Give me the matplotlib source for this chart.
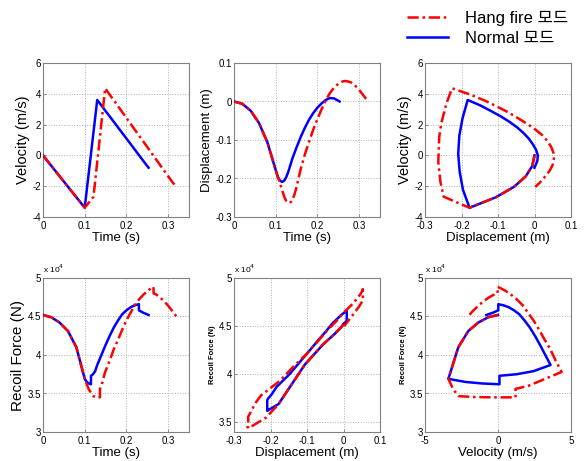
import numpy as np
import matplotlib as mpl
mpl.use('Agg')
import matplotlib.pyplot as plt
from matplotlib.lines import Line2D
from matplotlib.ticker import FuncFormatter, MultipleLocator

plt.rcParams['font.family'] = ['Liberation Sans', 'Noto Sans CJK KR', 'DejaVu Sans']

# normal firing mode (blue)
t_normal = [0, 0.02, 0.04, 0.06, 0.08, 0.10, 0.105, 0.11, 0.115, 0.115, 0.12, 0.125, 0.13,
            0.14, 0.15, 0.16, 0.17, 0.18, 0.19, 0.20, 0.21, 0.22, 0.23, 0.23, 0.24, 0.253]
v_normal = [0, -0.68, -1.36, -2.04, -2.72, -3.40, -2.23, -1.07, 0.10, 0.10, 1.27, 2.43, 3.60,
            3.24, 2.88, 2.53, 2.17, 1.81, 1.45, 1.10, 0.74, 0.38, 0.02, 0.02, -0.34, -0.80]
d_normal = [0, -0.006, -0.024, -0.056, -0.106, -0.178, -0.196, -0.205, -0.209, -0.209, -0.206,
            -0.197, -0.183, -0.148, -0.119, -0.092, -0.068, -0.047, -0.030, -0.016, -0.005,
            0.004, 0.009, 0.009, 0.008, 0.0]
f_normal = [45200, 44900, 44200, 43100, 41000, 36900, 36500, 36300, 36200, 37300, 37500, 37900,
            38700, 40000, 41300, 42500, 43600, 44500, 45300, 45800, 46200, 46450, 46600, 45800,
            45500, 45200]

# hang fire mode (red)
t_hang = [0, 0.02, 0.04, 0.06, 0.08, 0.10, 0.11, 0.121, 0.125, 0.13, 0.1365, 0.1365, 0.14,
          0.145, 0.149, 0.16, 0.17, 0.18, 0.19, 0.20, 0.21, 0.22, 0.23, 0.24, 0.25, 0.26,
          0.265, 0.265, 0.27, 0.28, 0.29, 0.30, 0.31, 0.32]
v_hang = [0, -0.68, -1.36, -2.04, -2.72, -3.40, -3.06, -2.68, -1.68, -0.42, 1.20, 1.20, 2.09,
          3.35, 4.36, 3.94, 3.57, 3.19, 2.81, 2.43, 2.05, 1.67, 1.30, 0.92, 0.54, 0.16,
          -0.03, -0.03, -0.22, -0.60, -0.98, -1.35, -1.73, -2.05]
d_hang = [0, -0.006, -0.024, -0.056, -0.106, -0.178, -0.212, -0.249, -0.258, -0.2636, -0.261,
          -0.261, -0.2553, -0.2416, -0.226, -0.175, -0.137, -0.104, -0.073, -0.046, -0.020,
          0.003, 0.022, 0.036, 0.046, 0.052, 0.053, 0.053, 0.053, 0.050, 0.042, 0.030, 0.016,
          0.002]
f_hang = [45200, 44900, 44200, 43100, 41000, 36900, 35500, 34650, 34550, 34500, 34500, 35600,
          36000, 37000, 37800, 39300, 40800, 42000, 43300, 44500, 45500, 46500, 47200, 47800,
          48300, 48700, 48850, 48000, 47900, 47500, 47000, 46400, 45700, 45000]

labels = ["Hang fire 모드", "Normal 모드"]

RED = "#ff0000"
BLUE = "#0000ff"
DASHDOT = (0, (4.5, 1.5, 1, 1.5))

fig = plt.figure(figsize=(5.86, 4.61), dpi=100)

col_left = [43 / 586, 234 / 586, 425 / 586]
row_bottom = [1 - 217 / 461, 1 - 432 / 461]
w, h = 146 / 586, 154 / 461

fmt_g = FuncFormatter(lambda x, pos: "%g" % round(x, 6))
fmt_e4 = FuncFormatter(lambda x, pos: "%g" % round(x / 1e4, 6))


def style(ax, xlim, ylim, xstep, ystep, xlabel, ylabel, ysize=9.5, ybold=False, sci=False):
    ax.set_xlim(xlim)
    ax.set_ylim(ylim)
    ax.xaxis.set_major_locator(MultipleLocator(xstep))
    ax.yaxis.set_major_locator(MultipleLocator(ystep))
    ax.xaxis.set_major_formatter(fmt_g)
    ax.yaxis.set_major_formatter(fmt_e4 if sci else fmt_g)
    ax.grid(True, linestyle=':', color='#b0b0b0', linewidth=0.7)
    ax.set_axisbelow(True)
    for s in ax.spines.values():
        s.set_color('#808080')
        s.set_linewidth(0.8)
    ax.tick_params(direction='in', length=2.5, width=0.6, color='#808080',
                   labelsize=7, pad=1.5)
    ax.tick_params(axis='x', pad=3)
    ax.set_xlabel(xlabel, fontsize=9.5, labelpad=0.5)
    ax.set_ylabel(ylabel, fontsize=ysize, labelpad=2,
                  fontweight='bold' if ybold else 'normal')
    if sci:
        ax.text(0.0, 1.02, "x 10$^4$", transform=ax.transAxes, fontsize=6,
                ha='left', va='bottom')


def curves(ax, xn, yn, xh, yh):
    ax.plot(xn, yn, color=BLUE, linewidth=1.8, zorder=3)
    ax.plot(xh, yh, color=RED, linewidth=1.8, linestyle=DASHDOT, zorder=4)


# velocity vs time
ax = fig.add_axes([col_left[0], row_bottom[0], w, h])
curves(ax, t_normal, v_normal, t_hang, v_hang)
style(ax, (0, 0.35), (-4, 6), 0.1, 2, "Time (s)", "Velocity (m/s)", ysize=10.5)

# displacement vs time
ax = fig.add_axes([col_left[1], row_bottom[0], w, h])
curves(ax, t_normal, d_normal, t_hang, d_hang)
style(ax, (0, 0.35), (-0.3, 0.1), 0.1, 0.1, "Time (s)", "Displacement (m)")

# velocity vs displacement
ax = fig.add_axes([col_left[2], row_bottom[0], w, h])
curves(ax, d_normal, v_normal, d_hang, v_hang)
style(ax, (-0.3, 0.1), (-4, 6), 0.1, 2, "Displacement (m)", "Velocity (m/s)", ysize=10.5)

# recoil force vs time
ax = fig.add_axes([col_left[0], row_bottom[1], w, h])
curves(ax, t_normal, f_normal, t_hang, f_hang)
style(ax, (0, 0.35), (30000, 50000), 0.1, 5000, "Time (s)", "Recoil Force (N)",
      ysize=11, sci=True)

# recoil force vs displacement
ax = fig.add_axes([col_left[1], row_bottom[1], w, h])
curves(ax, d_normal, f_normal, d_hang, f_hang)
style(ax, (-0.3, 0.1), (34000, 50000), 0.1, 5000, "Displacement (m)", "Recoil Force (N)",
      ysize=5.5, ybold=True, sci=True)

# recoil force vs velocity
ax = fig.add_axes([col_left[2], row_bottom[1], w, h])
curves(ax, v_normal, f_normal, v_hang, f_hang)
style(ax, (-5, 5), (30000, 50000), 5, 5000, "Velocity (m/s)", "Recoil Force (N)",
      ysize=5.5, ybold=True, sci=True)

handles = [Line2D([], [], color=RED, linewidth=1.8, linestyle=DASHDOT),
           Line2D([], [], color=BLUE, linewidth=1.8)]
fig.legend(handles, labels, loc='upper left', bbox_to_anchor=(396 / 586, 1.0),
           frameon=False, fontsize=12, handlelength=2.5, handletextpad=1.0,
           labelspacing=0.3, borderpad=0.15)

fig.savefig("out.png", dpi=100)
